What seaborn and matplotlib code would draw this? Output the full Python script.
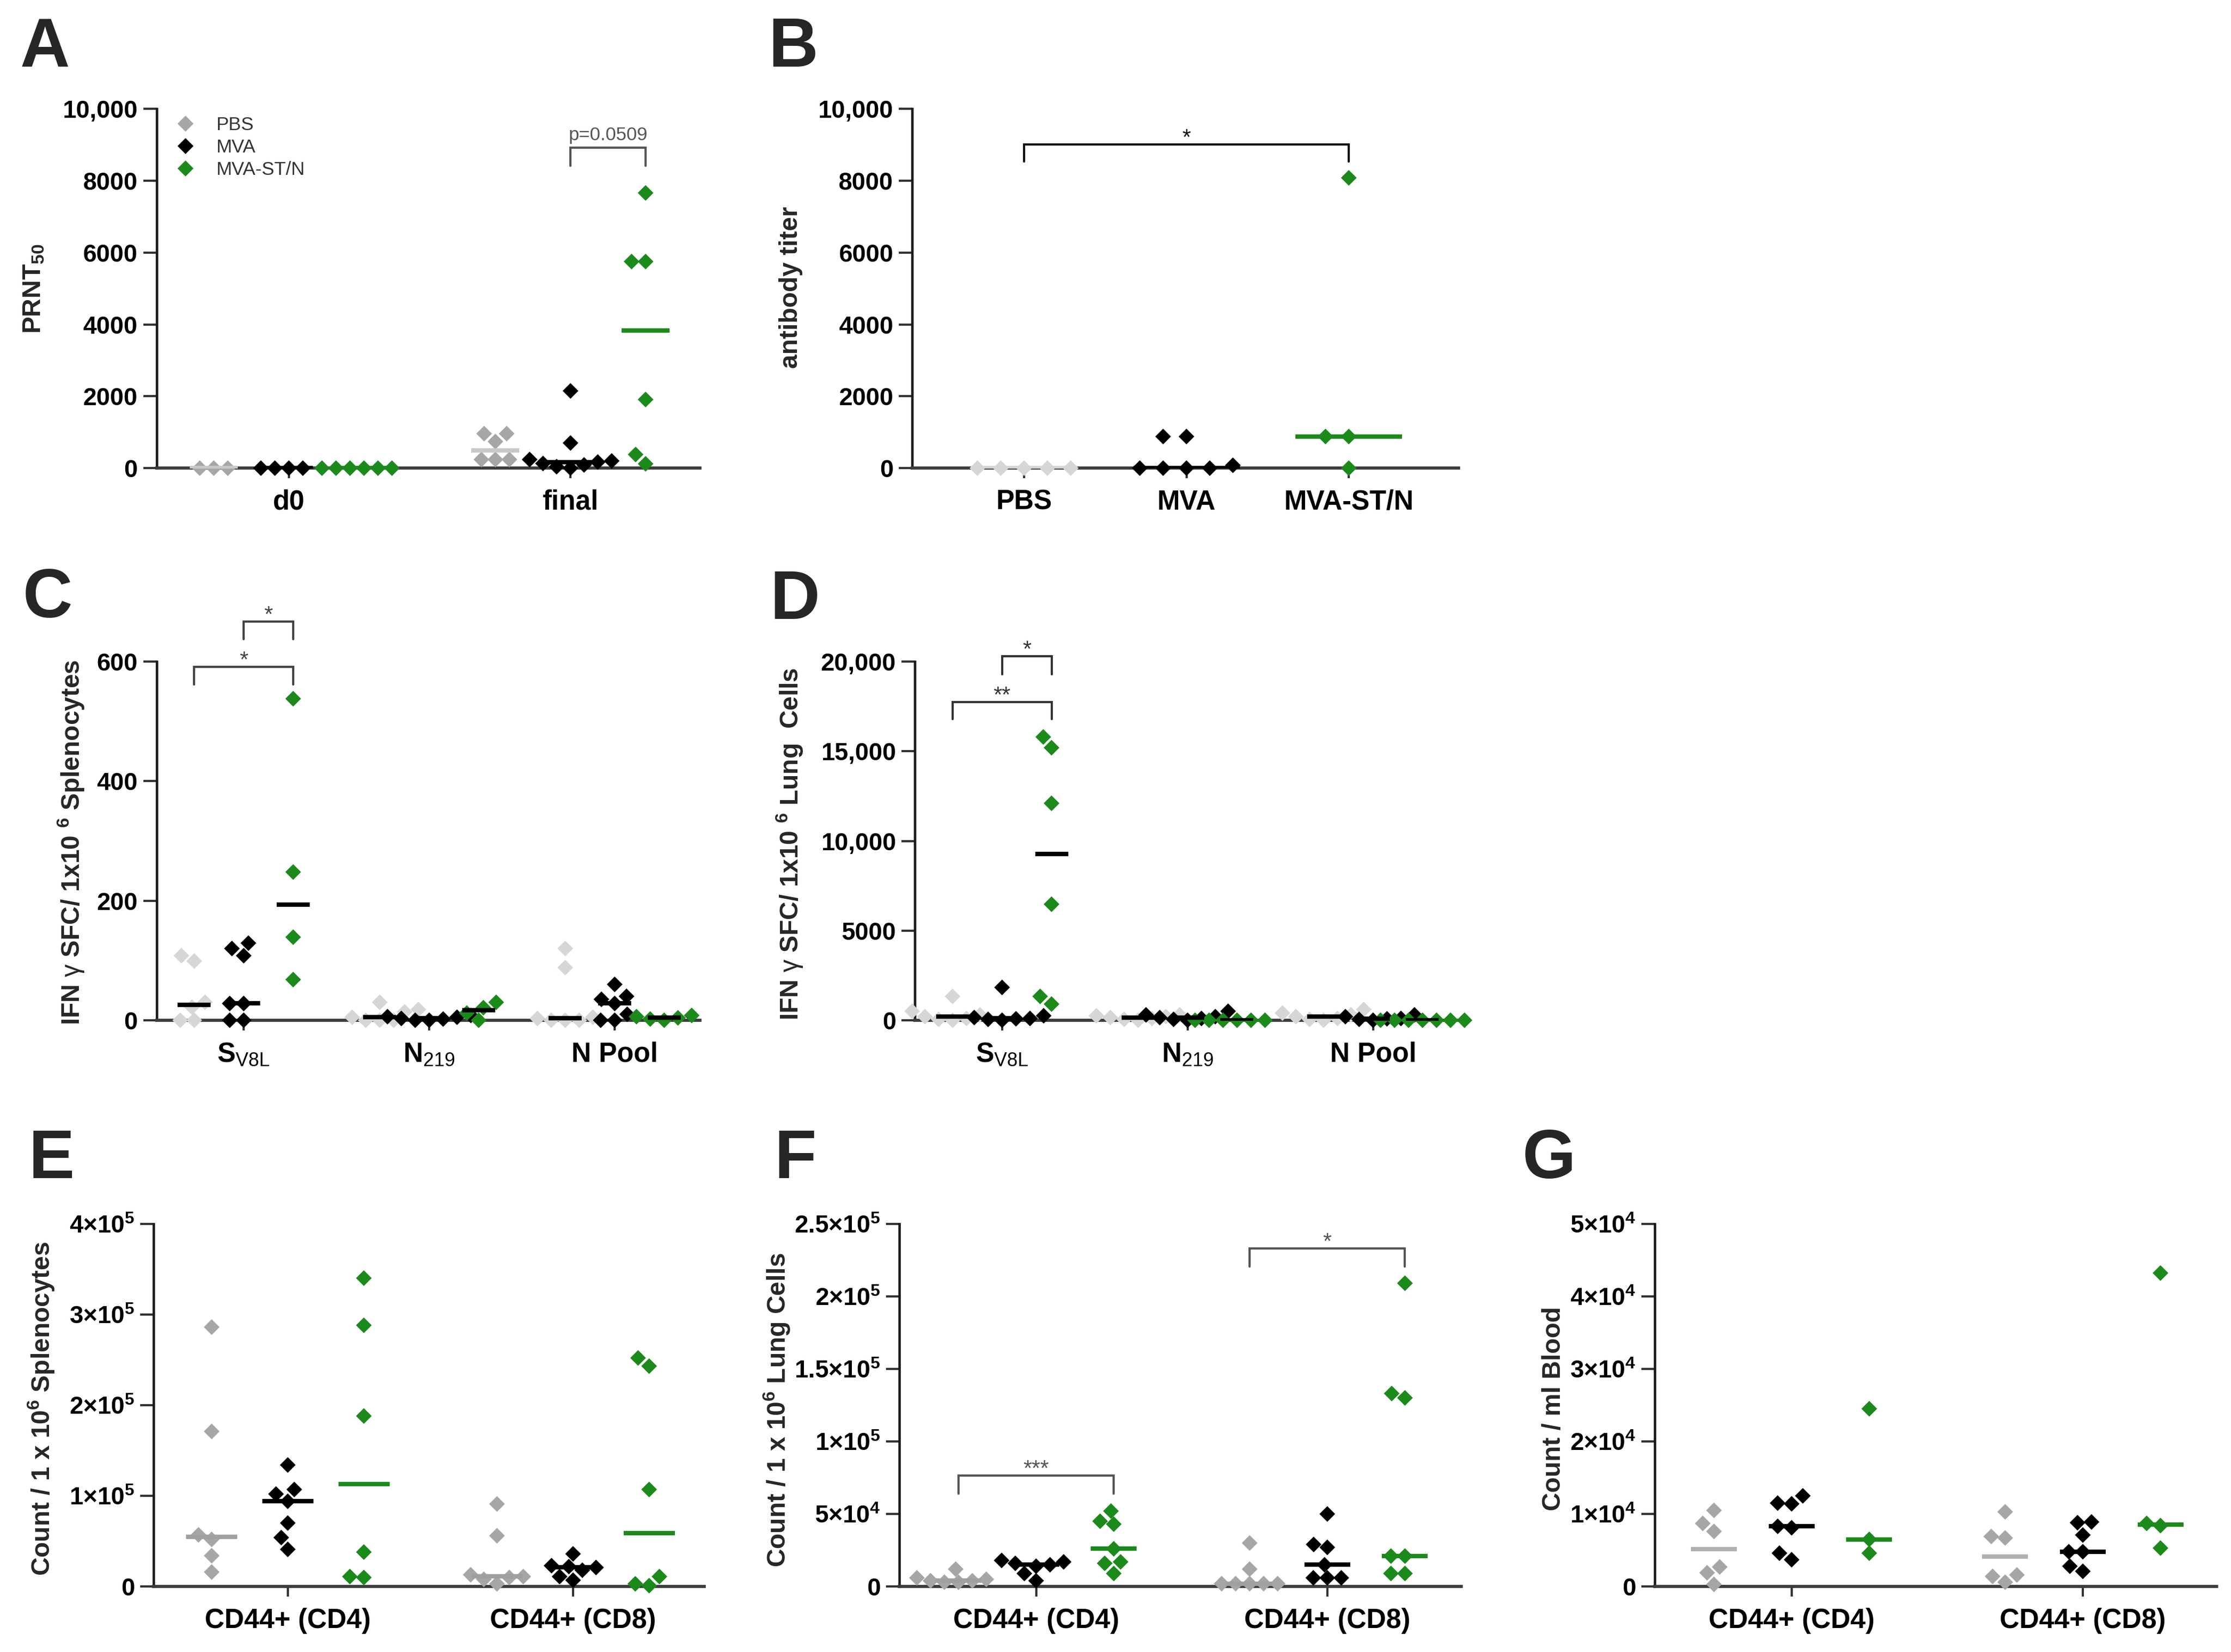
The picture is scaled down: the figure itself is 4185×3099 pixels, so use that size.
import warnings
warnings.filterwarnings('ignore')
import numpy as np
import pandas as pd
import matplotlib
matplotlib.use('Agg')
import matplotlib.pyplot as plt
import seaborn as sns

# ---------------- data ----------------
GROUPS = ['PBS', 'MVA', 'MVA-ST/N']

# Panel A: PRNT50
A_categories = ['d0', 'final']
A_PBS = [[0, 0, 0], [960, 960, 740, 240, 240, 240]]
A_MVA = [[0, 0, 0, 0], [2150, 700, 240, 200, 170, 130, 90, 40, 0]]
A_MVAST = [[0, 0, 0, 0, 0, 0], [7660, 5750, 5750, 1910, 380, 120]]
A_yticks = [0, 2000, 4000, 6000, 8000, 10000]
A_yticklabels = ['0', '2000', '4000', '6000', '8000', '10,000']

# Panel B: antibody titer
B_PBS = [0, 0, 0, 0, 0]
B_MVA = [880, 880, 80, 0, 0, 0, 0]
B_MVAST = [8080, 880, 880, 0]
B_yticks = [0, 2000, 4000, 6000, 8000, 10000]
B_yticklabels = ['0', '2000', '4000', '6000', '8000', '10,000']

# Panel C: IFN-g SFC splenocytes
C_categories = ['S$_{\\mathrm{V8L}}$', 'N$_{\\mathrm{219}}$', 'N Pool']
C_PBS = [[108, 99, 30, 22, 0, 0], [30, 18, 14, 5, 0, 0, 0], [120, 88, 5, 3, 0, 0, 0]]
C_MVA = [[129, 120, 108, 28, 28, 0, 0], [8, 6, 5, 3, 2, 0, 0], [60, 40, 35, 28, 10, 0, 0]]
C_MVAST = [[538, 248, 139, 68], [30, 21, 12, 0], [8, 6, 4, 2, 0]]
C_yticks = [0, 200, 400, 600]
C_yticklabels = ['0', '200', '400', '600']

# Panel D: IFN-g SFC lung cells
D_PBS = [[1330, 500, 300, 200, 100, 50, 0], [300, 250, 200, 150, 100, 50, 0],
         [600, 400, 300, 200, 100, 50, 0]]
D_MVA = [[1830, 250, 150, 100, 80, 50, 0], [500, 300, 200, 150, 100, 50, 0],
         [300, 200, 100, 80, 50, 0]]
D_MVAST = [[15800, 15200, 12100, 6470, 1330, 900], [0, 0, 0, 0, 0, 0], [0, 0, 0, 0, 0, 0, 0]]
D_yticks = [0, 5000, 10000, 15000, 20000]
D_yticklabels = ['0', '5000', '10,000', '15,000', '20,000']

# Panels E-G: CD44+ counts
EFG_categories = ['CD44+ (CD4)', 'CD44+ (CD8)']
E_PBS = [[286000, 171000, 57000, 52000, 34000, 16000], [91000, 56000, 13000, 11000, 10000, 8000, 3000]]
E_MVA = [[134000, 107000, 102000, 94000, 70000, 54000, 41000], [36000, 23000, 22000, 21000, 18000, 11000, 7000]]
E_MVAST = [[340000, 288000, 188000, 38000, 11000, 10000], [252000, 243000, 107000, 11000, 3000, 1000]]
E_yticks = [0, 100000, 200000, 300000, 400000]
E_yticklabels = ['0', '1×10$^{\\mathbf{5}}$', '2×10$^{\\mathbf{5}}$', '3×10$^{\\mathbf{5}}$', '4×10$^{\\mathbf{5}}$']

F_PBS = [[12000, 6000, 5000, 4000, 4000, 3000, 3000], [30000, 12000, 2000, 2000, 2000, 2000, 2000]]
F_MVA = [[18000, 17000, 16000, 15000, 14000, 9000, 4000], [50000, 29000, 27000, 15000, 6000, 6000, 6000]]
F_MVAST = [[52000, 45000, 43000, 26000, 17000, 16000, 9000], [209000, 133000, 130000, 21000, 21000, 9000, 9000]]
F_yticks = [0, 50000, 100000, 150000, 200000, 250000]
F_yticklabels = ['0', '5×10$^{\\mathbf{4}}$', '1×10$^{\\mathbf{5}}$', '1.5×10$^{\\mathbf{5}}$',
                 '2×10$^{\\mathbf{5}}$', '2.5×10$^{\\mathbf{5}}$']

G_PBS = [[10500, 8700, 7600, 2700, 1900, 300], [10300, 6900, 6700, 1600, 1400, 600]]
G_MVA = [[12500, 11500, 11400, 8300, 8100, 4600, 3700], [8900, 8800, 7100, 4800, 4800, 2800, 2100]]
G_MVAST = [[24500, 6500, 4600], [43200, 8700, 8400, 5300]]
G_yticks = [0, 10000, 20000, 30000, 40000, 50000]
G_yticklabels = ['0', '1×10$^{\\mathbf{4}}$', '2×10$^{\\mathbf{4}}$', '3×10$^{\\mathbf{4}}$',
                 '4×10$^{\\mathbf{4}}$', '5×10$^{\\mathbf{4}}$']

# significance brackets: (category index, group index 1, group index 2, bar height, drop height, label)
A_brackets = [(1, 1, 2, 8913, 8412, 'p=0.0509')]
C_brackets = [(0, 1, 2, 667, 638, '*'), (0, 0, 2, 591, 562, '*')]
D_brackets = [(0, 1, 2, 20300, 19300, '*'), (0, 0, 2, 17750, 16800, '**')]
F_brackets = [(0, 0, 2, 76300, 64100, '***'), (1, 0, 2, 233100, 220600, '*')]
B_brackets = [(0, 2, 9008, 8535, '*')]

# ---------------- style ----------------
sns.set_theme(style='ticks')
plt.rcParams['font.family'] = ['Liberation Sans', 'DejaVu Sans']
plt.rcParams['mathtext.fontset'] = 'custom'
plt.rcParams['mathtext.rm'] = 'Liberation Sans'
plt.rcParams['mathtext.bf'] = 'Liberation Sans:bold'
plt.rcParams['mathtext.it'] = 'Liberation Sans:italic'
plt.rcParams['axes.unicode_minus'] = False

GREEN = '#1b8a1b'
GREY = '#a6a6a6'
LIGHT = '#d6d6d6'
PT_SIZE = 5
PT_GAP = 1.0   # invisible edge width: spreads the swarm a little like GraphPad's scatter

W, H = 1568.0, 1161.0
fig = plt.figure(figsize=(13.95, 10.33), dpi=300)
OFF = [-0.8 / 3, 0.0, 0.8 / 3]


def make_ax(l, r, t, b):
    return fig.add_axes([l / W, 1 - b / H, (r - l) / W, (b - t) / H])


def long_df(categories, series):
    rows = []
    for g, vals in zip(GROUPS, series):
        for c, vs in zip(categories, vals):
            for v in vs:
                rows.append((c, g, v))
    return pd.DataFrame(rows, columns=['cat', 'group', 'value'])


def draw_hue(ax, df, order, pt_cols, med_cols, med_w, legend=False):
    sns.swarmplot(data=df, x='cat', y='value', hue='group', order=order, hue_order=GROUPS,
                  palette=pt_cols, dodge=True, marker='D', size=PT_SIZE, linewidth=PT_GAP,
                  edgecolor='none', ax=ax, clip_on=False, zorder=3, legend=legend)
    sns.pointplot(data=df, x='cat', y='value', hue='group', order=order, hue_order=GROUPS,
                  palette=med_cols, estimator='median', errorbar=None, dodge=0.8 * 2 / 3,
                  markers='_', linestyles='none', markersize=med_w, markeredgewidth=2.0,
                  ax=ax, legend=False, zorder=4)


def style(ax, xlim, ylim, yticks, yticklabels, xticklabels):
    ax.set_xlim(*xlim)
    ax.set_ylim(*ylim)
    ax.set_yticks(yticks)
    ax.set_yticklabels(yticklabels, fontsize=11, fontweight='bold')
    ax.set_xticks(range(len(xticklabels)))
    ax.set_xticklabels(xticklabels, fontsize=12.3, fontweight='bold')
    for s in ['top', 'right']:
        ax.spines[s].set_visible(False)
    ax.spines['left'].set_linewidth(1.1)
    ax.spines['left'].set_color('#1a1a1a')
    ax.spines['bottom'].set_linewidth(1.4)
    ax.spines['bottom'].set_color('#3c3c3c')
    ax.tick_params(axis='y', length=6, width=1.0, pad=2.5, color='#333333', labelcolor='black')
    ax.tick_params(axis='x', length=4.5, width=1.0, pad=5, color='#333333', labelcolor='black')
    ax.set_xlabel('')
    ax.set_ylabel('')
    ax.grid(False)


def bracket(ax, x1, x2, y, drop, text, color='#444444', dy=0.0, fs=10):
    ax.plot([x1, x1, x2, x2], [drop, y, y, drop], color=color, lw=1.0, clip_on=False,
            solid_joinstyle='miter')
    ax.annotate(text, xy=((x1 + x2) / 2, y), xytext=(0, dy), textcoords='offset points',
                ha='center', va='baseline', fontsize=fs, color=color, annotation_clip=False)


def hue_brackets(ax, specs, color='#444444'):
    for cat, g1, g2, y, drop, txt in specs:
        if txt.startswith('p'):
            bracket(ax, cat + OFF[g1], cat + OFF[g2], y, drop, txt, color=color, dy=3.5, fs=8.5)
        else:
            bracket(ax, cat + OFF[g1], cat + OFF[g2], y, drop, txt, color=color)


def ylab(text, x, y):
    fig.text(x / W, 1 - y / H, text, rotation=90, ha='center', va='center',
             fontsize=11.5, fontweight='bold')


def panel_label(text, x, y):
    fig.text(x / W, 1 - y / H, text, fontsize=31, fontweight='bold', va='baseline', ha='left')


# ---------------- Panel A ----------------
axA = make_ax(110, 492, 76.5, 329)
dfA = long_df(A_categories, [A_PBS, A_MVA, A_MVAST])
draw_hue(axA, dfA, A_categories, [GREY, 'black', GREEN], ['#c8c8c8', 'black', GREEN], 21.8, legend=True)
style(axA, (-0.47, 1.46), (0, 10000), A_yticks, A_yticklabels, A_categories)
hue_brackets(axA, A_brackets, color='#555555')
sns.move_legend(axA, 'upper left', bbox_to_anchor=(0.005, 1.0), frameon=False, title=None,
                fontsize=8.5, labelspacing=0.25, handletextpad=0.6, borderaxespad=0.0,
                labelcolor='#333333')
ylab('PRNT$_{\\mathbf{50}}$', 24, 203)
panel_label('A', 14, 47)

# ---------------- Panel B ----------------
axB = make_ax(641, 1025, 76.5, 329)
dfB = pd.DataFrame({'group': ['PBS'] * len(B_PBS) + ['MVA'] * len(B_MVA) + ['MVA-ST/N'] * len(B_MVAST),
                    'value': B_PBS + B_MVA + B_MVAST})
sns.swarmplot(data=dfB, x='group', y='value', hue='group', order=GROUPS, hue_order=GROUPS,
              palette=[LIGHT, 'black', GREEN], marker='D', size=PT_SIZE, linewidth=5.0,
              edgecolor='none', ax=axB, clip_on=False, zorder=3, legend=False)
sns.pointplot(data=dfB, x='group', y='value', hue='group', order=GROUPS, hue_order=GROUPS,
              palette=[LIGHT, 'black', GREEN], estimator='median', errorbar=None,
              markers='_', linestyles='none', markersize=48, markeredgewidth=2.0,
              ax=axB, legend=False, zorder=4)
style(axB, (-0.69, 2.675), (0, 10000), B_yticks, B_yticklabels, GROUPS)
for g1, g2, y, drop, txt in B_brackets:
    bracket(axB, g1, g2, y, drop, txt, color='#111111')
ylab('antibody titer', 556, 202)
panel_label('B', 540, 47)

# ---------------- Panel C ----------------
axC = make_ax(110, 492, 465, 717)
dfC = long_df(C_categories, [C_PBS, C_MVA, C_MVAST])
draw_hue(axC, dfC, C_categories, [LIGHT, 'black', GREEN], ['black', 'black', 'black'], 15)
style(axC, (-0.47, 2.46), (0, 600), C_yticks, C_yticklabels, C_categories)
hue_brackets(axC, C_brackets)
ylab('IFN $\\mathrm{\\gamma}$ SFC/ 1x10 $^{\\mathbf{6}}$ Splenocytes', 50, 592)
panel_label('C', 16, 434)

# ---------------- Panel D ----------------
axD = make_ax(643, 1025, 465, 717)
dfD = long_df(C_categories, [D_PBS, D_MVA, D_MVAST])
draw_hue(axD, dfD, C_categories, [LIGHT, 'black', GREEN], ['black', 'black', 'black'], 14.7)
style(axD, (-0.47, 2.46), (0, 20000), D_yticks, D_yticklabels, C_categories)
hue_brackets(axD, D_brackets, color='#333333')
ylab('IFN $\\mathrm{\\gamma}$ SFC/ 1x10 $^{\\mathbf{6}}$ Lung  Cells', 555, 593)
panel_label('D', 541, 435)

# ---------------- Panel E ----------------
axE = make_ax(108, 495, 860, 1115)
dfE = long_df(EFG_categories, [E_PBS, E_MVA, E_MVAST])
draw_hue(axE, dfE, EFG_categories, [GREY, 'black', GREEN], ['#a0a0a0', 'black', GREEN], 23)
style(axE, (-0.47, 1.46), (0, 400000), E_yticks, E_yticklabels, EFG_categories)
ylab('Count / 1 x 10$^{\\mathbf{6}}$ Splenocytes', 29, 990)
panel_label('E', 20, 828)

# ---------------- Panel F ----------------
axF = make_ax(632, 1027, 860, 1115)
dfF = long_df(EFG_categories, [F_PBS, F_MVA, F_MVAST])
draw_hue(axF, dfF, EFG_categories, [GREY, 'black', GREEN], ['#a0a0a0', 'black', GREEN], 20.5)
style(axF, (-0.47, 1.46), (0, 250000), F_yticks, F_yticklabels, EFG_categories)
hue_brackets(axF, F_brackets, color='#555555')
ylab('Count / 1 x 10$^{\\mathbf{6}}$ Lung Cells', 546, 991)
panel_label('F', 544, 828)

# ---------------- Panel G ----------------
axG = make_ax(1163, 1558, 860, 1115)
dfG = long_df(EFG_categories, [G_PBS, G_MVA, G_MVAST])
draw_hue(axG, dfG, EFG_categories, [GREY, 'black', GREEN], ['#b0b0b0', 'black', GREEN], 20.5)
style(axG, (-0.47, 1.46), (0, 50000), G_yticks, G_yticklabels, EFG_categories)
ylab('Count / ml Blood', 1092, 990)
panel_label('G', 1070, 828)

fig.savefig('out.png', dpi=300, facecolor='white')
